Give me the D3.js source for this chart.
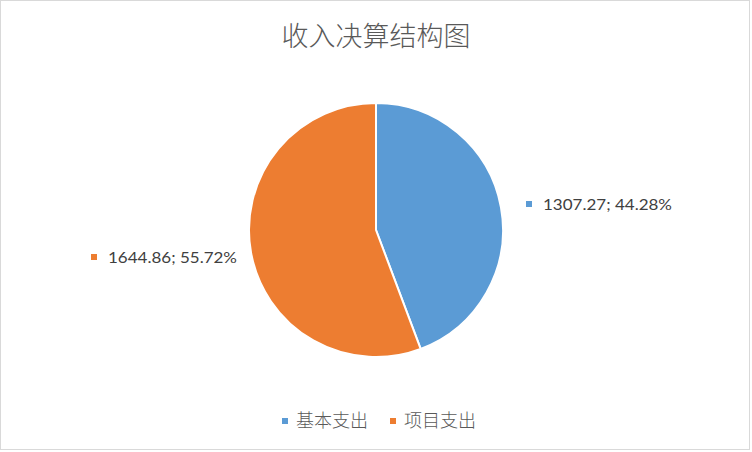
<!DOCTYPE html>
<html>
<head>
<meta charset="utf-8">
<script src="https://cdn.jsdelivr.net/npm/d3@7"></script>
<style>
  html, body { margin: 0; padding: 0; background: #fff; }
  svg { display: block; }
</style>
</head>
<body>
<div id="chart"></div>
<script>
  // data
  const title = "收入决算结构图";
  const categories = ["基本支出", "项目支出"];
  const values = [1307.27, 1644.86];
  const percents = ["44.28%", "55.72%"];
  const colors = ["#5B9BD5", "#ED7D31"];

  const width = 752, height = 452;
  const cx = 376, cy = 230, radius = 127;

  const svg = d3.select("#chart").append("svg")
    .attr("width", width)
    .attr("height", height);

  svg.append("rect")
    .attr("x", 0.5).attr("y", 0.5)
    .attr("width", 749).attr("height", 449)
    .attr("fill", "#fff")
    .attr("stroke", "#d9d9d9");

  svg.append("text")
    .attr("x", cx).attr("y", 46)
    .attr("text-anchor", "middle")
    .attr("font-family", "'Noto Sans CJK SC', sans-serif")
    .attr("font-size", 27)
    .attr("font-weight", 300)
    .attr("fill", "#595959")
    .text(title);

  const color = d3.scaleOrdinal().domain(categories).range(colors);

  const pie = d3.pie().sort(null).value(d => d.value);
  const arcs = pie(categories.map((c, i) => ({ name: c, value: values[i], pct: percents[i] })));
  const arc = d3.arc().innerRadius(0).outerRadius(radius);

  const g = svg.append("g").attr("transform", `translate(${cx},${cy})`);
  g.selectAll("path")
    .data(arcs)
    .join("path")
    .attr("d", arc)
    .attr("fill", d => color(d.data.name))
    .attr("stroke", "#fff")
    .attr("stroke-width", 2)
    .attr("stroke-linejoin", "round");

  // data labels, placed outside the pie on the side of each slice
  const labelPos = [
    { x: 543, y: 210, anchor: "start" },
    { x: 108, y: 263, anchor: "start" }
  ];
  const lbl = svg.selectAll("g.lbl")
    .data(arcs)
    .join("g")
    .attr("class", "lbl");
  lbl.append("rect")
    .attr("x", (d, i) => labelPos[i].x - 17)
    .attr("y", (d, i) => labelPos[i].y - 9)
    .attr("width", 6).attr("height", 6)
    .attr("fill", d => color(d.data.name));
  lbl.append("text")
    .attr("x", (d, i) => labelPos[i].x)
    .attr("y", (d, i) => labelPos[i].y)
    .attr("font-family", "Lato, 'Open Sans', sans-serif")
    .attr("font-size", 16)
    .attr("fill", "#404040")
    .attr("textLength", 129)
    .attr("lengthAdjust", "spacingAndGlyphs")
    .text(d => d3.format(".2f")(d.data.value) + "; " + d.data.pct);

  // legend
  const legendX = [282, 390];
  const leg = svg.selectAll("g.leg")
    .data(categories)
    .join("g")
    .attr("class", "leg")
    .attr("transform", (d, i) => `translate(${legendX[i]},418)`);
  leg.append("rect")
    .attr("width", 6).attr("height", 6)
    .attr("fill", d => color(d));
  leg.append("text")
    .attr("x", 14).attr("y", 9)
    .attr("font-family", "'Noto Sans CJK SC', sans-serif")
    .attr("font-size", 18)
    .attr("font-weight", 300)
    .attr("fill", "#595959")
    .text(d => d);
</script>
</body>
</html>
